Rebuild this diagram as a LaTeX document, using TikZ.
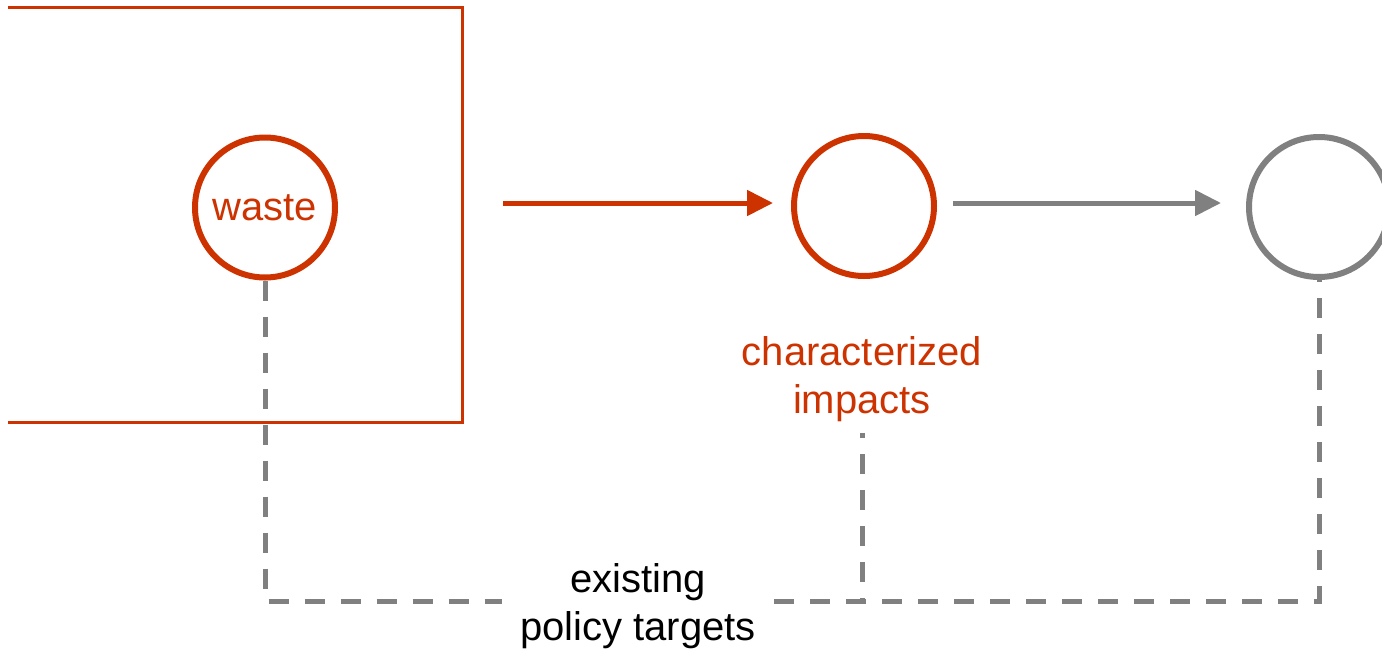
\documentclass[tikz,border=0pt]{standalone}
\usepackage{fontspec}
\setmainfont{Liberation Sans}
\usetikzlibrary{arrows.meta,calc}
\definecolor{rust}{RGB}{204,51,0}
\definecolor{slate}{RGB}{128,128,128}
\tikzset{
  stage/.style={circle, draw, line width=6pt, minimum size=140pt, inner sep=0pt},
  big/.style={font=\fontsize{40}{48}\selectfont},
  flow/.style={line width=5pt, -{Triangle[length=26pt,width=25pt]}},
  target/.style={draw=slate, line width=5pt, dash pattern=on 20pt off 16pt},
  frameline/.style={draw=rust, line width=3pt},
}
\begin{document}
\begin{tikzpicture}[x=1pt,y=-1pt]
\useasboundingbox (0,0) rectangle (1382,654);
\clip (0,0) rectangle (1382,654);

% system boundary (open on the left)
\node[inner sep=0pt, outer sep=0pt, minimum width=454pt, minimum height=415pt] (sys) at (235,214.5) {};
\draw[frameline] (sys.north west) -| (sys.south east) -- (sys.south west);

% stages
\node[stage, draw=rust, text=rust, big] (waste) at (265,207.5) {waste};
\node[stage, draw=rust] (mid) at (864,206) {};
\node[stage, draw=slate] (end) at (1319,207) {};

% labels
\node[big, text=rust, align=center, inner xsep=0pt, inner ysep=11pt] (imp) at (862,379) {characterized\\impacts};
\node[big, align=center, inner xsep=18pt, inner ysep=4pt] (pol) at (638,606.5) {existing\\policy targets};
\coordinate (bus) at (638,601);

% flow arrows
\coordinate (axis) at ($(mid.west)+(0,-3)$);
\draw[flow, draw=rust, fill=rust, shorten <=41pt, shorten >=18pt] (sys.east |- axis) -- (mid.west |- axis);
\draw[flow, draw=slate, fill=slate, shorten <=16pt, shorten >=25pt] (mid.east |- axis) -- (end.west |- axis);

% policy target links
\draw[target] (waste.south) |- (pol.west |- bus);
\draw[target] (pol.east |- bus) -| (end.south);
\draw[target, dash phase=15pt] (imp.south) -- (imp.south |- bus);
\end{tikzpicture}
\end{document}
